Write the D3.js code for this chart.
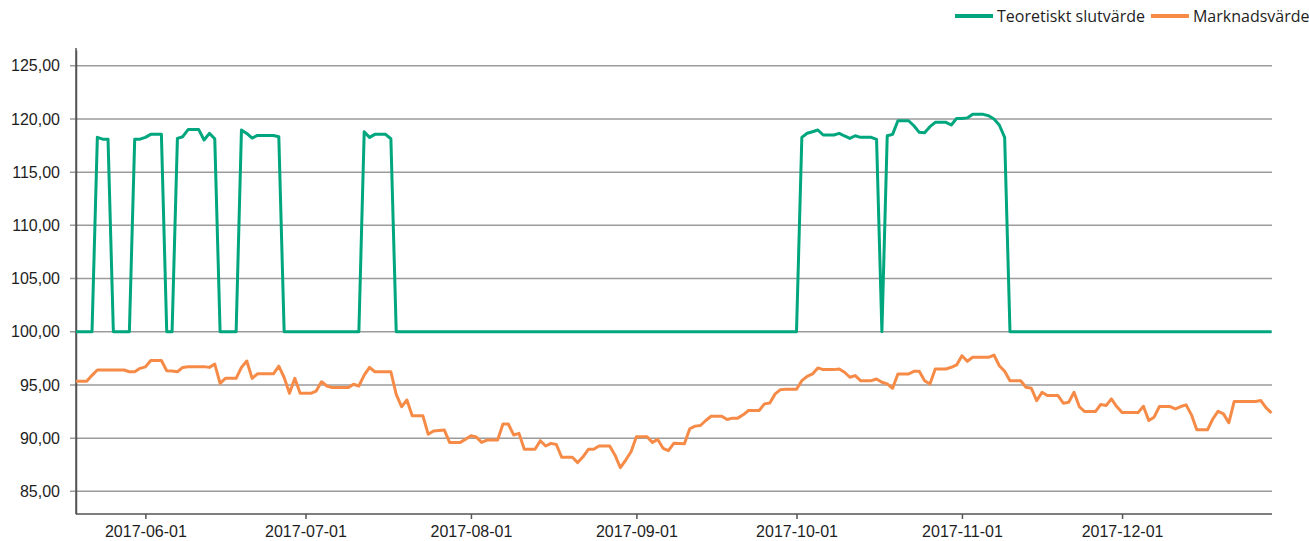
<!DOCTYPE html>
<html>
<head>
<meta charset="utf-8">
<script src="https://cdn.jsdelivr.net/npm/d3@7"></script>
<style>
  body { margin: 0; background: #fff; }
  svg { display: block; font-family: "Open Sans", sans-serif; }
  .axis text { fill: #1e1e1e; font-size: 16px; }
  .grid line { stroke: #9b9b9b; stroke-width: 1.5; }
  .axis path, .axis line { stroke: #555; stroke-width: 1.5; }
</style>
</head>
<body>
<svg id="chart" width="1309" height="541"></svg>
<script>
(function() {
  var seriesNames, seriesColors, startDate, endDate, teoretiskt, marknad, yTicks, xTickDates;

  seriesNames = ["Teoretiskt slutvärde", "Marknadsvärde"];
  seriesColors = ["#00a67e", "#f68b48"];

  // one value per calendar day, 2017-05-19 .. 2017-12-29
  startDate = new Date(Date.UTC(2017, 4, 19));
  endDate = new Date(Date.UTC(2017, 11, 30));

  teoretiskt = [
    100, 100, 100, 100, 118.27, 118.1, 118.1, 100, 100, 100, 100, 118.1, 118.1,
    118.27, 118.55, 118.55, 118.55, 100, 100, 118.17, 118.33, 119.0, 119.0, 119.0, 118.02,
    118.64, 118.14, 100, 100, 100, 100, 118.95, 118.64, 118.2, 118.45, 118.45, 118.45,
    118.45, 118.33, 100, 100, 100, 100, 100, 100, 100, 100, 100, 100, 100, 100,
    100, 100, 100, 118.8, 118.27, 118.55, 118.55, 118.55, 118.14, 100, 100, 100,
    100, 100, 100, 100, 100, 100, 100, 100, 100, 100, 100, 100, 100, 100,
    100, 100, 100, 100, 100, 100, 100, 100, 100, 100, 100, 100, 100, 100,
    100, 100, 100, 100, 100, 100, 100, 100, 100, 100, 100, 100, 100, 100,
    100, 100, 100, 100, 100, 100, 100, 100, 100, 100, 100, 100, 100, 100,
    100, 100, 100, 100, 100, 100, 100, 100, 100, 100, 100, 100, 100, 100,
    100, 100, 100, 118.27, 118.65, 118.8, 118.96, 118.49, 118.49, 118.49, 118.65, 118.4, 118.17,
    118.42, 118.27, 118.27, 118.27, 118.08, 100, 118.42, 118.55, 119.83, 119.83, 119.83, 119.36,
    118.74, 118.7, 119.27, 119.68, 119.68, 119.68, 119.43, 120.05, 120.05, 120.1, 120.43, 120.43,
    120.43, 120.3, 119.99, 119.43, 118.27, 100, 100, 100, 100, 100, 100, 100,
    100, 100, 100, 100, 100, 100, 100, 100, 100, 100, 100, 100, 100, 100,
    100, 100, 100, 100, 100, 100, 100, 100, 100, 100, 100, 100, 100, 100,
    100, 100, 100, 100, 100, 100, 100, 100, 100, 100, 100, 100, 100, 100,
    100
  ];

  marknad = [
    95.35, 95.35, 95.35, 95.9, 96.4, 96.4, 96.4, 96.4, 96.4, 96.4, 96.24, 96.24, 96.56,
    96.7, 97.3, 97.3, 97.3, 96.34, 96.3, 96.24, 96.65, 96.7, 96.72, 96.72, 96.72,
    96.65, 96.96, 95.15, 95.62, 95.62, 95.62, 96.65, 97.25, 95.62, 96.05, 96.05, 96.05,
    96.05, 96.77, 95.7, 94.21, 95.62, 94.21, 94.21, 94.21, 94.43, 95.3, 94.9, 94.75,
    94.75, 94.75, 94.75, 95.06, 94.9, 95.93, 96.65, 96.24, 96.24, 96.24, 96.24, 94.12,
    92.95, 93.58, 92.1, 92.1, 92.1, 90.36, 90.67, 90.72, 90.77, 89.6, 89.6, 89.6,
    89.9, 90.23, 90.1, 89.6, 89.82, 89.82, 89.82, 91.33, 91.33, 90.3, 90.45, 88.95,
    88.95, 88.95, 89.76, 89.26, 89.51, 89.4, 88.2, 88.2, 88.2, 87.7, 88.25, 88.95,
    88.95, 89.26, 89.26, 89.26, 88.4, 87.22, 87.94, 88.72, 90.13, 90.13, 90.13, 89.6,
    89.88, 89.04, 88.82, 89.51, 89.5, 89.47, 90.88, 91.13, 91.19, 91.66, 92.06, 92.06,
    92.06, 91.75, 91.88, 91.88, 92.19, 92.6, 92.6, 92.6, 93.22, 93.31, 94.16, 94.56,
    94.6, 94.6, 94.6, 95.4, 95.81, 96.03, 96.6, 96.44, 96.44, 96.44, 96.5, 96.19,
    95.72, 95.88, 95.4, 95.4, 95.4, 95.56, 95.25, 95.1, 94.69, 96.03, 96.03, 96.03,
    96.28, 96.28, 95.4, 95.09, 96.5, 96.5, 96.5, 96.66, 96.88, 97.75, 97.22, 97.6,
    97.6, 97.6, 97.6, 97.81, 96.8, 96.28, 95.4, 95.4, 95.4, 94.78, 94.69, 93.53,
    94.31, 94.0, 94.0, 94.0, 93.28, 93.37, 94.31, 92.95, 92.5, 92.5, 92.5, 93.16,
    93.06, 93.69, 92.97, 92.4, 92.4, 92.4, 92.4, 93.0, 91.66, 91.97, 92.97, 92.97,
    92.97, 92.75, 92.97, 93.13, 92.19, 90.78, 90.78, 90.78, 91.8, 92.53, 92.28, 91.44,
    93.44, 93.44, 93.44, 93.44, 93.44, 93.53, 92.84, 92.38
  ];

  yTicks = [85, 90, 95, 100, 105, 110, 115, 120, 125];
  xTickDates = ["2017-06-01", "2017-07-01", "2017-08-01", "2017-09-01", "2017-10-01", "2017-11-01", "2017-12-01"];

  var svg, margin, width, height, dates, x, y, locale, fmtY, fmtX, grid, line, series, legend;

  svg = d3.select("#chart");
  margin = { top: 50, right: 37, bottom: 27, left: 76 };
  width = +svg.attr("width");
  height = +svg.attr("height");

  dates = d3.utcDays(startDate, endDate);

  x = d3.scaleUtc()
    .domain([dates[0], dates[dates.length - 1]])
    .range([margin.left, width - margin.right - 0.5]);
  y = d3.scaleLinear()
    .domain([82.87, 126.48])
    .range([height - margin.bottom, margin.top]);

  locale = d3.formatLocale({ decimal: ",", thousands: " ", grouping: [3], currency: ["", " kr"] });
  fmtY = locale.format(".2f");
  fmtX = d3.utcFormat("%Y-%m-%d");

  // horizontal grid
  grid = svg.append("g").attr("class", "grid");
  grid.selectAll("line").data(yTicks).enter().append("line")
    .attr("x1", margin.left - 6)
    .attr("x2", width - margin.right)
    .attr("y1", function(d) { return y(d); })
    .attr("y2", function(d) { return y(d); });

  svg.append("g")
    .attr("class", "axis")
    .attr("transform", "translate(" + margin.left + ",0)")
    .call(d3.axisLeft(y).tickValues(yTicks).tickSize(0).tickPadding(16).tickFormat(fmtY))
    .call(function(g) { g.selectAll(".tick line").remove(); });

  svg.append("g")
    .attr("class", "axis")
    .attr("transform", "translate(0," + (height - margin.bottom) + ")")
    .call(d3.axisBottom(x)
      .tickValues(xTickDates.map(function(s) { return d3.utcParse("%Y-%m-%d")(s); }))
      .tickSize(5).tickSizeOuter(0).tickPadding(7).tickFormat(fmtX))
    .call(function(g) { g.select(".domain").attr("d", "M" + margin.left + ",0H" + (width - margin.right)); });

  // left axis line drawn over grid
  svg.append("line")
    .attr("x1", margin.left).attr("x2", margin.left)
    .attr("y1", margin.top - 2).attr("y2", height - margin.bottom)
    .attr("stroke", "#555").attr("stroke-width", 1.5);

  line = d3.line()
    .x(function(d, i) { return x(dates[i]); })
    .y(function(d) { return y(d); });

  series = [teoretiskt, marknad];
  svg.append("g").selectAll("path").data(series).enter().append("path")
    .attr("fill", "none")
    .attr("stroke", function(d, i) { return seriesColors[i]; })
    .attr("stroke-width", 3)
    .attr("stroke-linejoin", "round")
    .attr("d", line);

  // legend, top right
  legend = svg.append("g").attr("transform", "translate(955,16)");
  var lx = 0;
  seriesNames.forEach(function(name, i) {
    var item = legend.append("g").attr("transform", "translate(" + lx + ",0)");
    item.append("line")
      .attr("x1", 0).attr("x2", 38)
      .attr("stroke", seriesColors[i]).attr("stroke-width", 4);
    var t = item.append("text")
      .attr("x", 42).attr("dy", "0.35em")
      .attr("fill", "#1e1e1e").attr("font-size", 16)
      .text(name);
    lx += 42 + t.node().getComputedTextLength() + 6;
  });
})();
</script>
</body>
</html>
